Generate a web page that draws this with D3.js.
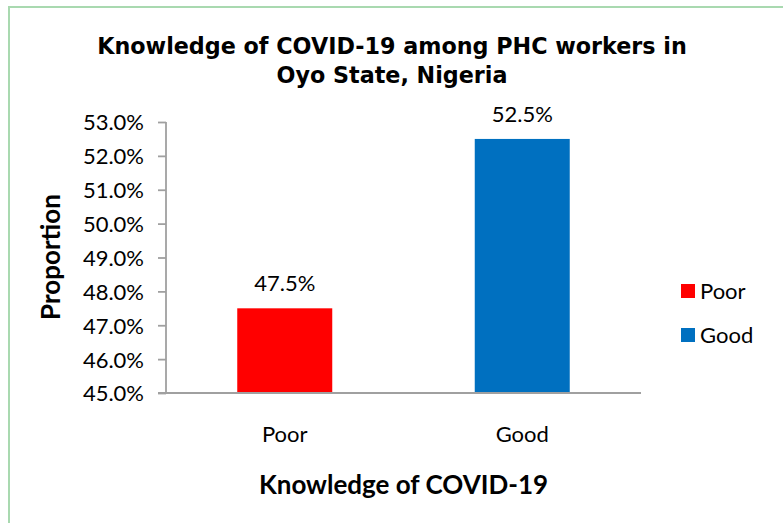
<!DOCTYPE html>
<html><head><meta charset="utf-8">
<script src="https://cdn.jsdelivr.net/npm/d3@7"></script>
<style>html,body{margin:0;padding:0;background:#fff;}svg{display:block;}</style>
</head><body>
<script>
const categories = ["Poor", "Good"];
const values = [47.5, 52.5];
const colors = ["#FF0000", "#0070C0"];
const yTicks = [45, 46, 47, 48, 49, 50, 51, 52, 53];
const titleLines = ["Knowledge of COVID-19 among PHC workers in", "Oyo State, Nigeria"];
const xTitle = "Knowledge of COVID-19";
const yTitle = "Proportion";

const W = 783, H = 523;
const svg = d3.select("body").append("svg").attr("width", W).attr("height", H);
svg.append("rect").attr("x", 9).attr("y", 7).attr("width", 800).attr("height", 600)
  .attr("fill", "#fff").attr("stroke", "#A9D9B0").attr("stroke-width", 2);

const plot = {left: 166, right: 641, top: 122, bottom: 393};
const y = d3.scaleLinear().domain([45, 53]).range([plot.bottom, plot.top]);
const x = d3.scaleBand().domain(categories).range([plot.left, plot.right]).paddingInner(0.6).paddingOuter(0.3);

const numFont = "Lato, 'Open Sans', sans-serif";
const fs = 22;

// title
const title = svg.append("text").attr("text-anchor", "middle")
  .attr("font-family", "'DejaVu Sans', sans-serif").attr("font-weight", "bold").attr("font-size", 20).attr("fill", "#000");
titleLines.forEach((t, i) => title.append("tspan").attr("x", 392).attr("y", 54 + i * 29).text(t));
const tw = title.select("tspan").node().getComputedTextLength();
title.attr("font-size", 20 * 590 / tw);

// bars
svg.selectAll("rect.bar").data(categories).enter().append("rect").attr("class", "bar")
  .attr("x", d => x(d)).attr("width", x.bandwidth())
  .attr("y", (d, i) => y(values[i])).attr("height", (d, i) => y(45) - y(values[i]))
  .attr("fill", (d, i) => colors[i]);

// data labels
svg.selectAll("text.dl").data(categories).enter().append("text").attr("class", "dl")
  .attr("x", d => x(d) + x.bandwidth() / 2).attr("y", (d, i) => y(values[i]) - 17)
  .attr("text-anchor", "middle").attr("font-family", numFont).attr("font-size", fs).attr("fill", "#000")
  .text((d, i) => values[i].toFixed(1) + "%");

// y axis
const yAxis = d3.axisLeft(y).tickValues(yTicks).tickSize(8).tickPadding(14).tickFormat(d => d.toFixed(1) + "%");
const gy = svg.append("g").attr("transform", `translate(${plot.left},0)`).call(yAxis);
gy.select(".domain").attr("stroke", "#A0A0A0").attr("stroke-width", 1.8).attr("d", `M0,${plot.top}V${plot.bottom}`);
gy.selectAll(".tick line").attr("stroke", "#A0A0A0").attr("stroke-width", 1.8);
gy.selectAll(".tick text").attr("font-family", numFont).attr("font-size", fs).attr("fill", "#000").attr("dy", "0.36em");

// x axis
const xAxis = d3.axisBottom(x).tickSize(0).tickPadding(33);
const gx = svg.append("g").attr("transform", `translate(0,${plot.bottom})`).call(xAxis);
gx.select(".domain").attr("stroke", "#A0A0A0").attr("stroke-width", 1.8).attr("d", `M${plot.left - 8},0H${plot.right}`);
gx.selectAll(".tick text").attr("font-family", numFont).attr("font-size", fs).attr("fill", "#000");

// axis titles
svg.append("text").attr("x", (plot.left + plot.right) / 2).attr("y", 494).attr("text-anchor", "middle")
  .attr("font-family", numFont).attr("font-weight", "bold").attr("font-size", 26).attr("fill", "#000").text(xTitle);
svg.append("text").attr("transform", "translate(60,257) rotate(-90)").attr("text-anchor", "middle")
  .attr("font-family", numFont).attr("font-weight", "bold").attr("font-size", 26).attr("fill", "#000").text(yTitle);

// legend
const lg = svg.append("g");
categories.forEach((c, i) => {
  lg.append("rect").attr("x", 681).attr("y", 284 + i * 44).attr("width", 14).attr("height", 14).attr("fill", colors[i]);
  lg.append("text").attr("x", 700).attr("y", 299 + i * 44).attr("font-family", numFont).attr("font-size", fs).attr("fill", "#000").text(c);
});
</script>
</body></html>
